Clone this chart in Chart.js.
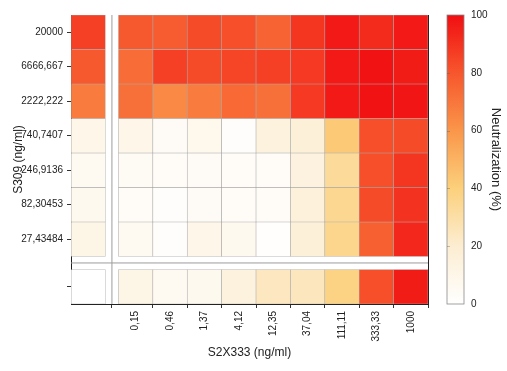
<!DOCTYPE html>
<html>
<head>
<meta charset="utf-8">
<title>S309 x S2X333 neutralization</title>
<script src="https://cdn.jsdelivr.net/npm/chart.js@4.4.0/dist/chart.umd.min.js"></script>
<style>
  html, body { margin: 0; padding: 0; background: #fff; }
  canvas { display: block; }
</style>
</head>
<body>
<canvas id="heat" width="507" height="371"></canvas>
<script>
// S309 concentrations, top row first ('' = no S309)
const rowLabels = ['20000', '6666,667', '2222,222', '740,7407', '246,9136', '82,30453', '27,43484', ''];
// S2X333 concentrations, left column first ('' = no S2X333)
const colLabels = ['', '0,15', '0,46', '1,37', '4,12', '12,35', '37,04', '111,11', '333,33', '1000'];

// neutralization (%), one array per S309 row
const row20000 = [86, 79, 78, 83, 82, 76, 89, 97, 92, 97];
const row6667  = [79, 73, 86, 83, 85, 86, 88, 97, 99, 96];
const row2222  = [68, 72, 64, 68, 74, 72, 88, 97, 99, 98];
const row741   = [10, 10, 4, 8, 2, 15, 17, 42, 82, 83];
const row247   = [6, 5, 3, 4, 3, 3, 14, 33, 82, 89];
const row82    = [7, 3, 2, 4, 3, 3, 16, 35, 83, 90];
const row27    = [11, 6, 2, 10, 7, 1, 17, 36, 77, 93];
const row0     = [0, 11, 6, 7, 15, 24, 25, 38, 82, 96];
const neutralization = [row20000, row6667, row2222, row741, row247, row82, row27, row0];

const colorbarTicks = [0, 20, 40, 60, 80, 100];

// colour scale: white -> cream -> yellow -> orange -> red
const colorStops = [
    [0,   [255, 255, 255]],
    [20,  [252, 237, 210]],
    [40,  [252, 208, 124]],
    [60,  [250, 150, 74]],
    [80,  [247, 86, 45]],
    [100, [241, 14, 18]]
];

function colorFor(v) {
    for (let i = 1; i < colorStops.length; i++) {
        const [v1, c1] = colorStops[i];
        const [v0, c0] = colorStops[i - 1];
        if (v <= v1) {
            const t = (v - v0) / (v1 - v0);
            const c = c0.map((a, k) => Math.round(a + (c1[k] - a) * t));
            return `rgb(${c[0]},${c[1]},${c[2]})`;
        }
    }
    const c = colorStops[colorStops.length - 1][1];
    return `rgb(${c[0]},${c[1]},${c[2]})`;
}

// the "0" column and "0" row are split off from the titration by a small break
const GAP = 0.38;
const nRows = rowLabels.length;
const colCenters = colLabels.map((_, j) => j === 0 ? 0.5 : j + GAP + 0.5);
const rowBottoms = rowLabels.map((_, i) => i === nRows - 1 ? 0 : (nRows - 1 - i) + GAP);
const rowCenters = rowBottoms.map(b => b + 0.5);
const xMax = colLabels.length + GAP;
const yMax = nRows + GAP;

const datasets = neutralization.map((vals, i) => ({
    label: 'S309 ' + (rowLabels[i] || '0'),
    data: colCenters.map(x => ({ x, y: [rowBottoms[i], rowBottoms[i] + 1] })),
    backgroundColor: vals.map(colorFor),
    borderColor: 'rgba(150,150,150,0.75)',
    borderWidth: 0.6,
    borderSkipped: false,
    grouped: false,
    barPercentage: 1,
    categoryPercentage: 1
}));

function labelAt(centers, labels, v) {
    const k = centers.findIndex(c => Math.abs(c - v) < 1e-6);
    return k >= 0 ? labels[k] : '';
}

// break lines + colour bar
const heatExtras = {
    id: 'heatExtras',
    afterDatasetsDraw(chart) {
        const { ctx, chartArea, scales } = chart;
        const bx = scales.x.getPixelForValue(1 + GAP / 2);
        const by = scales.y.getPixelForValue(1 + GAP / 2);
        ctx.save();
        ctx.strokeStyle = '#9c9c9c';
        ctx.lineWidth = 1;
        ctx.beginPath();
        ctx.moveTo(bx, chartArea.top);
        ctx.lineTo(bx, chartArea.bottom);
        ctx.moveTo(chartArea.left, by);
        ctx.lineTo(chartArea.right, by);
        ctx.stroke();

        // colour bar
        const cb = scales.cb;
        const x0 = chartArea.right + 19;
        const w = 17;
        const yTop = cb.getPixelForValue(100);
        const yBot = cb.getPixelForValue(0);
        const grad = ctx.createLinearGradient(0, yBot, 0, yTop);
        colorStops.forEach(([v]) => grad.addColorStop(v / 100, colorFor(v)));
        ctx.fillStyle = grad;
        ctx.fillRect(x0, yTop, w, yBot - yTop);
        ctx.strokeStyle = '#8a8a8a';
        ctx.lineWidth = 0.8;
        ctx.strokeRect(x0, yTop, w, yBot - yTop);
        ctx.strokeStyle = 'rgba(90,90,90,0.45)';
        ctx.beginPath();
        colorbarTicks.slice(1, -1).forEach(v => {
            const yy = Math.round(cb.getPixelForValue(v)) + 0.5;
            ctx.moveTo(x0, yy);
            ctx.lineTo(x0 + 3, yy);
        });
        ctx.stroke();
        ctx.restore();
    }
};

Chart.defaults.font.family = "'Liberation Sans', Arial, sans-serif";
Chart.defaults.font.size = 10;
Chart.defaults.color = '#222';

new Chart(document.getElementById('heat'), {
    type: 'bar',
    data: { datasets },
    plugins: [heatExtras],
    options: {
        responsive: false,
        animation: false,
        devicePixelRatio: 1,
        layout: { padding: { top: 15, left: 0, right: 0, bottom: 0 } },
        plugins: {
            legend: { display: false },
            tooltip: { enabled: false }
        },
        scales: {
            x: {
                type: 'linear',
                min: 0,
                max: xMax,
                offset: false,
                afterBuildTicks: s => { s.ticks = colCenters.map(v => ({ value: v })); },
                afterFit: s => { s.height = 67; },
                ticks: {
                    autoSkip: false,
                    minRotation: 90,
                    maxRotation: 90,
                    padding: 3,
                    callback: v => labelAt(colCenters, colLabels, v)
                },
                grid: { drawOnChartArea: false, drawTicks: true, tickLength: 4, tickColor: '#333' },
                border: { display: true, color: '#222', width: 1 },
                title: {
                    display: true,
                    text: 'S2X333 (ng/ml)',
                    font: { size: 12 },
                    padding: { top: 0, bottom: 11 }
                }
            },
            y: {
                type: 'linear',
                position: 'left',
                min: 0,
                max: yMax,
                afterBuildTicks: s => { s.ticks = rowCenters.slice().reverse().map(v => ({ value: v })); },
                afterFit: s => { s.width = 71; },
                ticks: {
                    autoSkip: false,
                    padding: 4,
                    callback: v => labelAt(rowCenters, rowLabels, v)
                },
                grid: { drawOnChartArea: false, drawTicks: true, tickLength: 4, tickColor: '#333' },
                border: { display: true, color: '#222', width: 1 },
                title: {
                    display: true,
                    text: 'S309 (ng/ml)',
                    font: { size: 12 },
                    padding: { top: 11, bottom: 0 }
                }
            },
            cb: {
                type: 'linear',
                axis: 'y',
                position: 'right',
                min: 0,
                max: 100,
                afterBuildTicks: s => { s.ticks = colorbarTicks.map(v => ({ value: v })); },
                afterFit: s => { s.width = 79; },
                ticks: { padding: 3, callback: v => String(v) },
                // invisible tick marks push the labels past the colour bar
                grid: { drawOnChartArea: false, drawTicks: true, tickLength: 40, tickColor: 'rgba(0,0,0,0)' },
                border: { display: true, color: '#222', width: 1 },
                title: {
                    display: true,
                    text: 'Neutralization (%)',
                    font: { size: 13 },
                    padding: { top: 4, bottom: 0 }
                }
            }
        }
    }
});
</script>
</body>
</html>
